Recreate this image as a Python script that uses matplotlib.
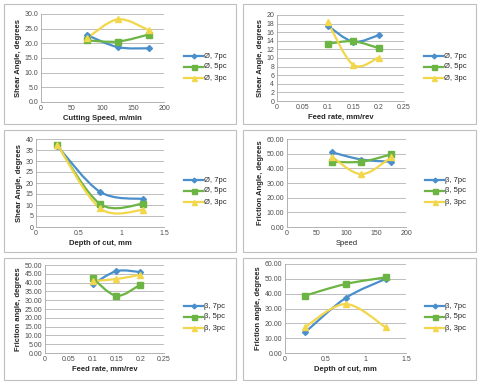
import matplotlib
matplotlib.use("Agg")
import matplotlib.pyplot as plt
from matplotlib.path import Path
from matplotlib.patches import PathPatch, Rectangle
from matplotlib.lines import Line2D
from matplotlib.ticker import FormatStrFormatter

plt.rcParams['font.family'] = ['Liberation Sans', 'DejaVu Sans']

# x values
speed = [75, 125, 175]
feed = [0.1, 0.15, 0.2]
depth = [0.25, 0.75, 1.25]

# shear angle (phi)
phi_speed_7 = [22.8, 18.7, 18.3]
phi_speed_5 = [21.0, 20.6, 23.0]
phi_speed_3 = [21.8, 28.2, 24.5]

phi_feed_7 = [17.5, 13.8, 15.3]
phi_feed_5 = [13.3, 13.9, 12.3]
phi_feed_3 = [18.3, 8.4, 10.1]

phi_depth_7 = [36.8, 16.0, 12.7]
phi_depth_5 = [37.3, 10.5, 10.5]
phi_depth_3 = [37.5, 8.5, 7.7]

# friction angle (beta)
beta_speed_7 = [51.0, 46.0, 44.5]
beta_speed_5 = [44.5, 44.5, 49.5]
beta_speed_3 = [48.0, 36.0, 47.5]

beta_feed_7 = [39.0, 46.5, 46.0]
beta_feed_5 = [42.5, 32.5, 38.8]
beta_feed_3 = [41.0, 42.0, 44.5]

beta_depth_7 = [14.0, 37.0, 50.0]
beta_depth_5 = [38.7, 46.5, 51.0]
beta_depth_3 = [17.5, 33.0, 17.2]

phi_labels = ["Ø, 7pc", "Ø, 5pc", "Ø, 3pc"]
beta_labels = ["β, 7pc", "β, 5pc", "β, 3pc"]

colors = ["#4a8fcb", "#6cb444", "#f2d64b"]
markers = ["D", "s", "^"]
msizes = [3, 4.5, 4.5]


def smooth_path(x, y):
    # Excel-style smoothed line: cubic Bezier through the points
    pts = list(zip(x, y))
    n = len(pts)
    verts = [pts[0]]
    codes = [Path.MOVETO]
    for i in range(n - 1):
        p0 = pts[i - 1] if i > 0 else pts[i]
        p1 = pts[i]
        p2 = pts[i + 1]
        p3 = pts[i + 2] if i + 2 < n else pts[i + 1]
        c1 = (p1[0] + (p2[0] - p0[0]) / 6, p1[1] + (p2[1] - p0[1]) / 6)
        c2 = (p2[0] - (p3[0] - p1[0]) / 6, p2[1] - (p3[1] - p1[1]) / 6)
        verts += [c1, c2, p2]
        codes += [Path.CURVE4] * 3
    return Path(verts, codes)


fig = plt.figure(figsize=(4.8, 3.84), dpi=100)
W, H = 480.0, 384.0

# panel boxes
boxes = [(4, 4, 232, 120), (243, 4, 233, 120), (4, 130, 232, 122),
         (243, 130, 233, 122), (4, 258, 232, 122), (243, 258, 233, 122)]
for bx, by, bw, bh in boxes:
    fig.patches.append(Rectangle((bx / W, 1 - (by + bh) / H), bw / W, bh / H,
                                 transform=fig.transFigure, fill=False,
                                 edgecolor="#bfbfbf", lw=0.8))

panels = [
    dict(rect=(41, 14, 164, 102), x=speed, ys=[phi_speed_7, phi_speed_5, phi_speed_3],
         labels=phi_labels, xlim=(0, 200), xstep=50, ylim=(0, 30), ystep=5, yfmt="%.1f", xfmt=None,
         xlabel="Cutting Speed, m/min", ylabel="Shear Angle, degrees", leg=(184, 56), bold=True),
    dict(rect=(277, 15, 404, 101), x=feed, ys=[phi_feed_7, phi_feed_5, phi_feed_3],
         labels=phi_labels, xlim=(0, 0.25), xstep=0.05, ylim=(0, 20), ystep=2, yfmt="%d", xfmt="g",
         xlabel="Feed rate, mm/rev", ylabel="Shear Angle, degrees", leg=(424, 56), bold=True),
    dict(rect=(36, 139, 164, 227), x=depth, ys=[phi_depth_7, phi_depth_5, phi_depth_3],
         labels=phi_labels, xlim=(0, 1.5), xstep=0.5, ylim=(0, 40), ystep=5, yfmt="%d", xfmt="g",
         xlabel="Depth of cut, mm", ylabel="Shear Angle, degrees", leg=(184, 180), bold=True),
    dict(rect=(287, 139, 406, 227), x=speed, ys=[beta_speed_7, beta_speed_5, beta_speed_3],
         labels=beta_labels, xlim=(0, 200), xstep=50, ylim=(0, 60), ystep=10, yfmt="%.2f", xfmt=None,
         xlabel="Speed", ylabel="Friction Angle, degrees", leg=(425, 180), bold=False),
    dict(rect=(45, 265, 164, 353), x=feed, ys=[beta_feed_7, beta_feed_5, beta_feed_3],
         labels=beta_labels, xlim=(0, 0.25), xstep=0.05, ylim=(0, 50), ystep=5, yfmt="%.2f", xfmt="g",
         xlabel="Feed rate, mm/rev", ylabel="Friction angle, degrees", leg=(184, 306), bold=True),
    dict(rect=(285, 264, 406, 353), x=depth, ys=[beta_depth_7, beta_depth_5, beta_depth_3],
         labels=beta_labels, xlim=(0, 1.5), xstep=0.5, ylim=(0, 60), ystep=10, yfmt="%.2f", xfmt="g",
         xlabel="Depth of cut, mm", ylabel="Friction angle, degrees", leg=(425, 306), bold=True),
]

for p in panels:
    l, t, r, b = p["rect"]
    ax = fig.add_axes([l / W, 1 - b / H, (r - l) / W, (b - t) / H])
    for ys, c, m, ms in zip(p["ys"], colors, markers, msizes):
        ax.add_patch(PathPatch(smooth_path(p["x"], ys), fill=False, edgecolor=c, lw=1.6,
                               capstyle="round", joinstyle="round"))
        ax.plot(p["x"], ys, linestyle="none", marker=m, ms=ms, color=c)
    ax.set_xlim(*p["xlim"])
    ax.set_ylim(*p["ylim"])
    n = int(round((p["xlim"][1] - p["xlim"][0]) / p["xstep"]))
    ax.set_xticks([p["xlim"][0] + i * p["xstep"] for i in range(n + 1)])
    k = int(round((p["ylim"][1] - p["ylim"][0]) / p["ystep"]))
    ax.set_yticks([p["ylim"][0] + i * p["ystep"] for i in range(k + 1)])
    ax.yaxis.set_major_formatter(FormatStrFormatter(p["yfmt"]))
    if p["xfmt"] == "g":
        ax.set_xticklabels(["%g" % v for v in ax.get_xticks()])
    ax.grid(axis="y", color="#b3b3b3", lw=0.6)
    ax.set_axisbelow(True)
    for s in ["top", "right"]:
        ax.spines[s].set_visible(False)
    for s in ["left", "bottom"]:
        ax.spines[s].set_color("#a6a6a6")
        ax.spines[s].set_linewidth(0.6)
    ax.tick_params(labelsize=5, length=0, pad=2, colors="#4d4d4d")
    ax.set_xlabel(p["xlabel"], fontsize=5.5, fontweight="bold" if p["bold"] else "normal",
                  labelpad=2, color="#262626")
    ax.set_ylabel(p["ylabel"], fontsize=5.5, fontweight="bold", labelpad=2, color="#262626")
    ax.patch.set_alpha(0)

    # legend, drawn in figure space
    lx, ly = p["leg"]
    for i, (lab, c, m, ms) in enumerate(zip(p["labels"], colors, markers, msizes)):
        yy = 1 - (ly + i * 11) / H
        fig.add_artist(Line2D([lx / W, (lx + 19) / W], [yy, yy], color=c, lw=1.6,
                              transform=fig.transFigure))
        fig.add_artist(Line2D([(lx + 9.5) / W], [yy], color=c, marker=m, ms=ms * 0.8,
                              linestyle="none", transform=fig.transFigure))
        fig.text((lx + 20) / W, yy, lab, fontsize=5.5, va="center", ha="left", color="#262626")

fig.savefig("out.png", dpi=100)
